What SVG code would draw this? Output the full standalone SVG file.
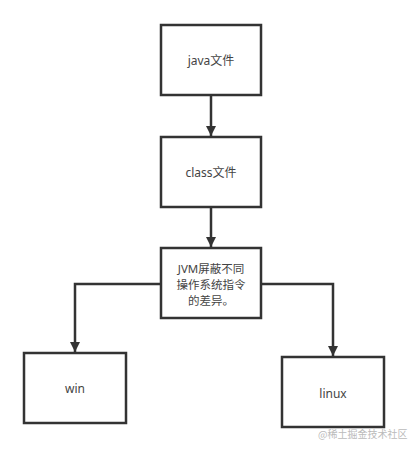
<svg xmlns="http://www.w3.org/2000/svg" width="408" height="452" viewBox="0 0 408 452">
<style>
.box{fill:#fff;stroke:#333;stroke-width:2.5}
.t{font-family:"Noto Sans","Noto Sans CJK SC",sans-serif;font-size:12px;fill:#444;text-anchor:middle;dominant-baseline:central}
.s{font-size:11.5px}
.c{fill:none;stroke:#333;stroke-width:2.5}
.wm{font-family:"Noto Sans CJK SC",sans-serif;font-size:10px;fill:#bbb}
</style>
<defs>
<marker id="ah" viewBox="0 0 10 10" refX="10" refY="5" markerWidth="4" markerHeight="4" orient="auto" markerUnits="strokeWidth">
<path d="M0,0 L10,5 L0,10 Z" fill="#333"/>
</marker>
</defs>
<rect width="408" height="452" fill="#fff"/>
<g id="connectors">
<path class="c" d="M211,95 V136" marker-end="url(#ah)"/>
<path class="c" d="M211,207 V247" marker-end="url(#ah)"/>
<path class="c" d="M161,284 H75 V352" marker-end="url(#ah)"/>
<path class="c" d="M261,284 H333 V356" marker-end="url(#ah)"/>
</g>
<g id="java"><rect class="box" x="161" y="25" width="100" height="70"/><text class="t" x="211" y="60">java文件</text></g>
<g id="class"><rect class="box" x="161" y="137" width="100" height="70"/><text class="t" x="211" y="172">class文件</text></g>
<g id="jvm"><rect class="box" x="161" y="248" width="100" height="70"/>
<text class="t s" x="211" y="268">JVM屏蔽不同</text>
<text class="t s" x="211" y="284">操作系统指令</text>
<text class="t s" x="211" y="300">的差异。</text></g>
<g id="win"><rect class="box" x="24" y="353" width="102" height="70"/><text class="t" x="75" y="388">win</text></g>
<g id="linux"><rect class="box" x="282" y="357" width="102" height="70"/><text class="t" x="333" y="393">linux</text></g>
<text class="wm" x="318" y="438">@稀土掘金技术社区</text>
</svg>
